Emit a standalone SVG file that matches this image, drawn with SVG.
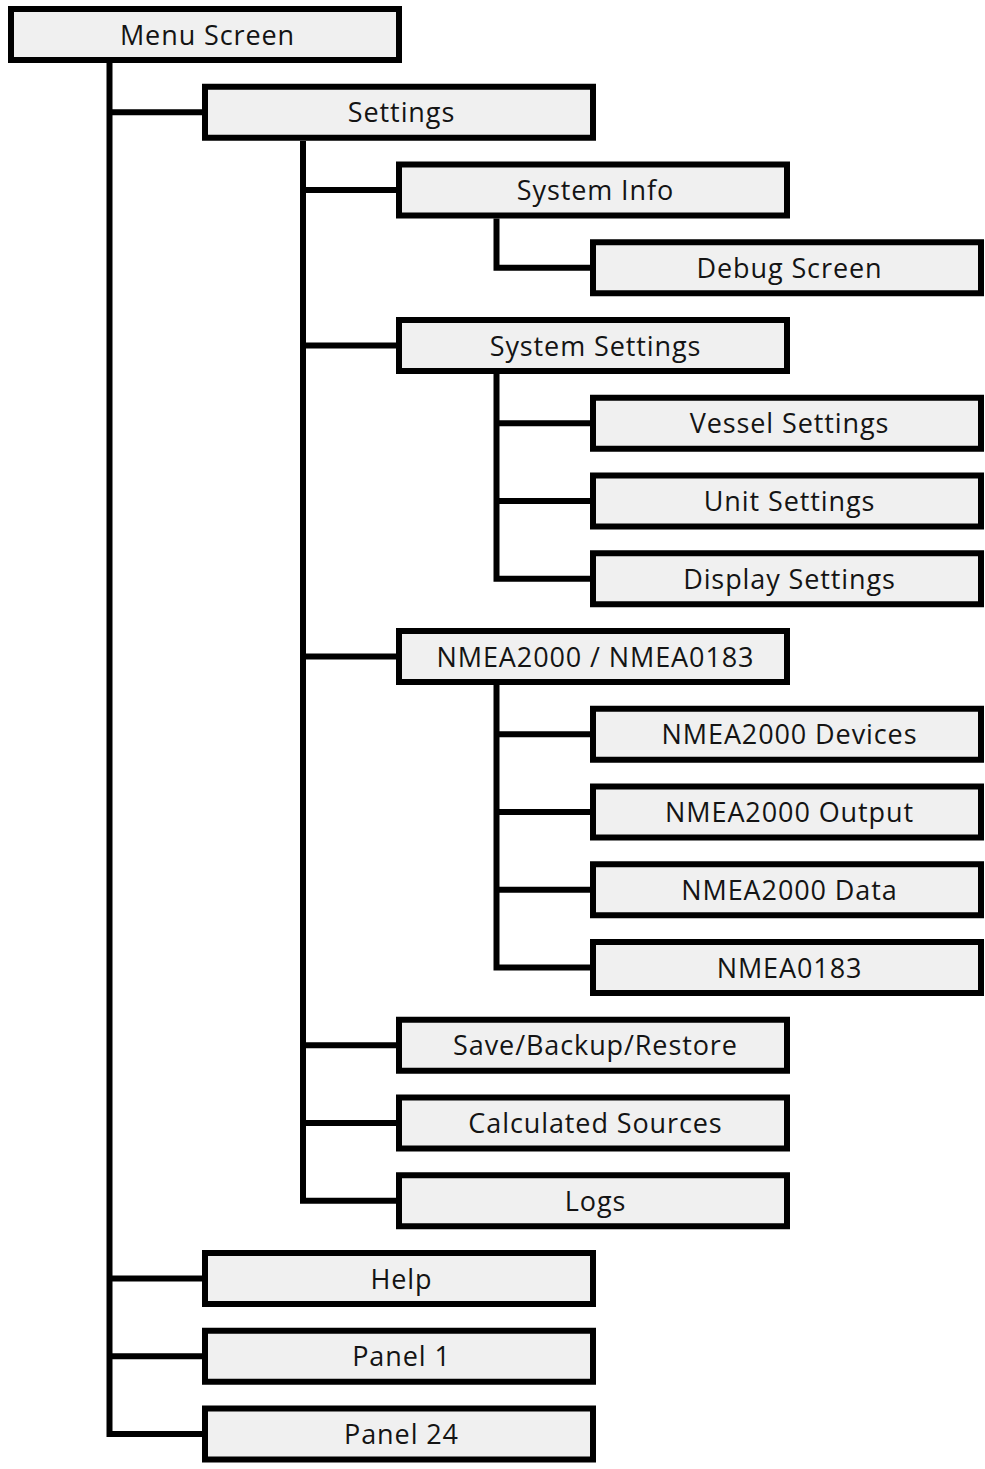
<svg xmlns="http://www.w3.org/2000/svg" width="985" height="1469" viewBox="0 0 985 1469">
<style>
.box{fill:#f0f0f0;stroke:#000;stroke-width:6}
.lbl{font-family:"Open Sans","Noto Sans",sans-serif;font-size:27px;letter-spacing:0.9px;fill:#141414;text-anchor:middle}
.conn{fill:none;stroke:#000;stroke-width:6;stroke-linejoin:miter}
</style>
<rect width="985" height="1469" fill="#fff"/>
<g id="connectors" class="conn">
<path d="M109.5 63V1434H205"/>
<path d="M109.5 112.25H205M109.5 1278.5H205M109.5 1356.25H205"/>
<path d="M303 141V1200.75H399"/>
<path d="M303 190H399M303 345.5H399M303 656.5H399M303 1045.25H399M303 1123H399"/>
<path d="M496.5 218.5V267.75H593"/>
<path d="M496.5 374V578.75H593M496.5 423.25H593M496.5 501H593"/>
<path d="M496.5 685V967.5H593M496.5 734.25H593M496.5 812H593M496.5 889.75H593"/>
</g>
<g id="menu-screen"><rect class="box" x="11" y="9" width="388" height="51"/><text class="lbl" x="207.5" y="44.5">Menu Screen</text></g>
<g id="settings"><rect class="box" x="205" y="86.75" width="388" height="51"/><text class="lbl" x="401.5" y="122.25">Settings</text></g>
<g id="system-info"><rect class="box" x="399" y="164.5" width="388" height="51"/><text class="lbl" x="595.5" y="200">System Info</text></g>
<g id="debug-screen"><rect class="box" x="593" y="242.25" width="388" height="51"/><text class="lbl" x="789.5" y="277.75">Debug Screen</text></g>
<g id="system-settings"><rect class="box" x="399" y="320" width="388" height="51"/><text class="lbl" x="595.5" y="355.5">System Settings</text></g>
<g id="vessel-settings"><rect class="box" x="593" y="397.75" width="388" height="51"/><text class="lbl" x="789.5" y="433.25">Vessel Settings</text></g>
<g id="unit-settings"><rect class="box" x="593" y="475.5" width="388" height="51"/><text class="lbl" x="789.5" y="511">Unit Settings</text></g>
<g id="display-settings"><rect class="box" x="593" y="553.25" width="388" height="51"/><text class="lbl" x="789.5" y="588.75">Display Settings</text></g>
<g id="nmea"><rect class="box" x="399" y="631" width="388" height="51"/><text class="lbl" x="595.5" y="666.5">NMEA2000 / NMEA0183</text></g>
<g id="nmea2000-devices"><rect class="box" x="593" y="708.75" width="388" height="51"/><text class="lbl" x="789.5" y="744.25">NMEA2000 Devices</text></g>
<g id="nmea2000-output"><rect class="box" x="593" y="786.5" width="388" height="51"/><text class="lbl" x="789.5" y="822">NMEA2000 Output</text></g>
<g id="nmea2000-data"><rect class="box" x="593" y="864.25" width="388" height="51"/><text class="lbl" x="789.5" y="899.75">NMEA2000 Data</text></g>
<g id="nmea0183"><rect class="box" x="593" y="942" width="388" height="51"/><text class="lbl" x="789.5" y="977.5">NMEA0183</text></g>
<g id="save-backup-restore"><rect class="box" x="399" y="1019.75" width="388" height="51"/><text class="lbl" x="595.5" y="1055.25">Save/Backup/Restore</text></g>
<g id="calculated-sources"><rect class="box" x="399" y="1097.5" width="388" height="51"/><text class="lbl" x="595.5" y="1133">Calculated Sources</text></g>
<g id="logs"><rect class="box" x="399" y="1175.25" width="388" height="51"/><text class="lbl" x="595.5" y="1210.75">Logs</text></g>
<g id="help"><rect class="box" x="205" y="1253" width="388" height="51"/><text class="lbl" x="401.5" y="1288.5">Help</text></g>
<g id="panel-1"><rect class="box" x="205" y="1330.75" width="388" height="51"/><text class="lbl" x="401.5" y="1366.25">Panel 1</text></g>
<g id="panel-24"><rect class="box" x="205" y="1408.5" width="388" height="51"/><text class="lbl" x="401.5" y="1444">Panel 24</text></g>
</svg>
